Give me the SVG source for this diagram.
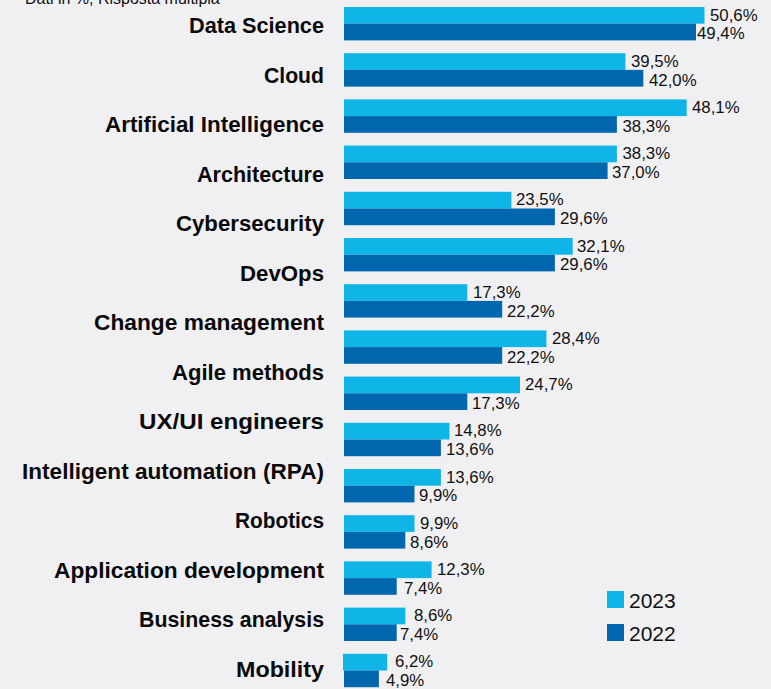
<svg xmlns="http://www.w3.org/2000/svg" width="771" height="689" viewBox="0 0 771 689">
<style>
.bg{fill:#f0f0f2}
.c23{fill:#0fb5e6}
.c22{fill:#0067ae}
.cat{font-family:"Liberation Sans",Arial,sans-serif;font-weight:bold;font-size:21.5px;fill:#0a0a0a;text-anchor:end}
.val{font-family:"Liberation Sans",Arial,sans-serif;font-size:16.8px;fill:#111}
.leg{font-family:"Liberation Sans",Arial,sans-serif;font-size:21px;fill:#111}
.note{font-family:"Liberation Sans",Arial,sans-serif;font-size:16px;fill:#111}
</style>
<rect class="bg" x="0" y="0" width="771" height="689"/>
<text class="note" x="25" y="4">Dati in %, Risposta multipla</text>
<g id="labels">
<text class="cat" x="324" y="33" textLength="135" lengthAdjust="spacingAndGlyphs">Data Science</text>
<text class="cat" x="324" y="82.5" textLength="60" lengthAdjust="spacingAndGlyphs">Cloud</text>
<text class="cat" x="324" y="132" textLength="219" lengthAdjust="spacingAndGlyphs">Artificial Intelligence</text>
<text class="cat" x="324" y="181.5" textLength="127" lengthAdjust="spacingAndGlyphs">Architecture</text>
<text class="cat" x="324" y="231" textLength="148" lengthAdjust="spacingAndGlyphs">Cybersecurity</text>
<text class="cat" x="324" y="280.5" textLength="84" lengthAdjust="spacingAndGlyphs">DevOps</text>
<text class="cat" x="324" y="330" textLength="230" lengthAdjust="spacingAndGlyphs">Change management</text>
<text class="cat" x="324" y="379.5" textLength="152" lengthAdjust="spacingAndGlyphs">Agile methods</text>
<text class="cat" x="324" y="429" textLength="185" lengthAdjust="spacingAndGlyphs">UX/UI engineers</text>
<text class="cat" x="324" y="478.5" textLength="302" lengthAdjust="spacingAndGlyphs">Intelligent automation (RPA)</text>
<text class="cat" x="324" y="528" textLength="89" lengthAdjust="spacingAndGlyphs">Robotics</text>
<text class="cat" x="324" y="577.5" textLength="270" lengthAdjust="spacingAndGlyphs">Application development</text>
<text class="cat" x="324" y="627" textLength="185" lengthAdjust="spacingAndGlyphs">Business analysis</text>
<text class="cat" x="324" y="676.5" textLength="88" lengthAdjust="spacingAndGlyphs">Mobility</text>
</g>
<g id="bars">
<g id="row0"><rect class="c23" x="344" y="7" width="360.5" height="16.7"/><rect class="c22" x="344" y="23.7" width="352" height="16.7"/><text class="val" x="710" y="20.5">50,6%</text><text class="val" x="697" y="39.3">49,4%</text></g>
<g id="row1"><rect class="c23" x="344" y="53.2" width="281.4" height="16.7"/><rect class="c22" x="344" y="69.9" width="299.3" height="16.7"/><text class="val" x="631" y="66.7">39,5%</text><text class="val" x="649" y="85.5">42,0%</text></g>
<g id="row2"><rect class="c23" x="344" y="99.4" width="342.7" height="16.7"/><rect class="c22" x="344" y="116.1" width="272.9" height="16.7"/><text class="val" x="692" y="112.9">48,1%</text><text class="val" x="622.5" y="131.7">38,3%</text></g>
<g id="row3"><rect class="c23" x="344" y="145.6" width="272.9" height="16.7"/><rect class="c22" x="344" y="162.3" width="263.6" height="16.7"/><text class="val" x="622.5" y="159.1">38,3%</text><text class="val" x="612" y="177.9">37,0%</text></g>
<g id="row4"><rect class="c23" x="344" y="191.8" width="167.4" height="16.7"/><rect class="c22" x="344" y="208.5" width="210.9" height="16.7"/><text class="val" x="516" y="205.3">23,5%</text><text class="val" x="560" y="224.1">29,6%</text></g>
<g id="row5"><rect class="c23" x="344" y="238" width="228.7" height="16.7"/><rect class="c22" x="344" y="254.7" width="210.9" height="16.7"/><text class="val" x="577" y="251.5">32,1%</text><text class="val" x="560" y="270.3">29,6%</text></g>
<g id="row6"><rect class="c23" x="344" y="284.2" width="123.3" height="16.7"/><rect class="c22" x="344" y="300.9" width="158.2" height="16.7"/><text class="val" x="473" y="297.7">17,3%</text><text class="val" x="507" y="316.5">22,2%</text></g>
<g id="row7"><rect class="c23" x="344" y="330.4" width="202.4" height="16.7"/><rect class="c22" x="344" y="347.1" width="158.2" height="16.7"/><text class="val" x="552" y="343.9">28,4%</text><text class="val" x="507" y="362.7">22,2%</text></g>
<g id="row8"><rect class="c23" x="344" y="376.6" width="176" height="16.7"/><rect class="c22" x="344" y="393.3" width="123.3" height="16.7"/><text class="val" x="525" y="390.1">24,7%</text><text class="val" x="472" y="408.9">17,3%</text></g>
<g id="row9"><rect class="c23" x="344" y="422.8" width="105.5" height="16.7"/><rect class="c22" x="344" y="439.5" width="96.9" height="16.7"/><text class="val" x="454" y="436.3">14,8%</text><text class="val" x="446" y="455.1">13,6%</text></g>
<g id="row10"><rect class="c23" x="344" y="469" width="96.9" height="16.7"/><rect class="c22" x="344" y="485.7" width="70.5" height="16.7"/><text class="val" x="446" y="482.5">13,6%</text><text class="val" x="419" y="501.3">9,9%</text></g>
<g id="row11"><rect class="c23" x="344" y="515.2" width="70.5" height="16.7"/><rect class="c22" x="344" y="531.9" width="61.3" height="16.7"/><text class="val" x="420" y="528.7">9,9%</text><text class="val" x="410" y="547.5">8,6%</text></g>
<g id="row12"><rect class="c23" x="344" y="561.4" width="87.6" height="16.7"/><rect class="c22" x="344" y="578.1" width="52.7" height="16.7"/><text class="val" x="437" y="574.9">12,3%</text><text class="val" x="404" y="593.7">7,4%</text></g>
<g id="row13"><rect class="c23" x="344" y="607.6" width="61.3" height="16.7"/><rect class="c22" x="344" y="624.3" width="52.7" height="16.7"/><text class="val" x="414" y="621.1">8,6%</text><text class="val" x="400" y="639.9">7,4%</text></g>
<g id="row14"><rect class="c23" x="343" y="653.8" width="44.2" height="16.7"/><rect class="c22" x="344" y="670.5" width="34.9" height="16.7"/><text class="val" x="395" y="667.3">6,2%</text><text class="val" x="386" y="686.1">4,9%</text></g>
</g>
<g id="legend">
<rect class="c23" x="607" y="591" width="17" height="17"/>
<text class="leg" x="629" y="608">2023</text>
<rect class="c22" x="607" y="624" width="17" height="17"/>
<text class="leg" x="629" y="641">2022</text>
</g>
</svg>
